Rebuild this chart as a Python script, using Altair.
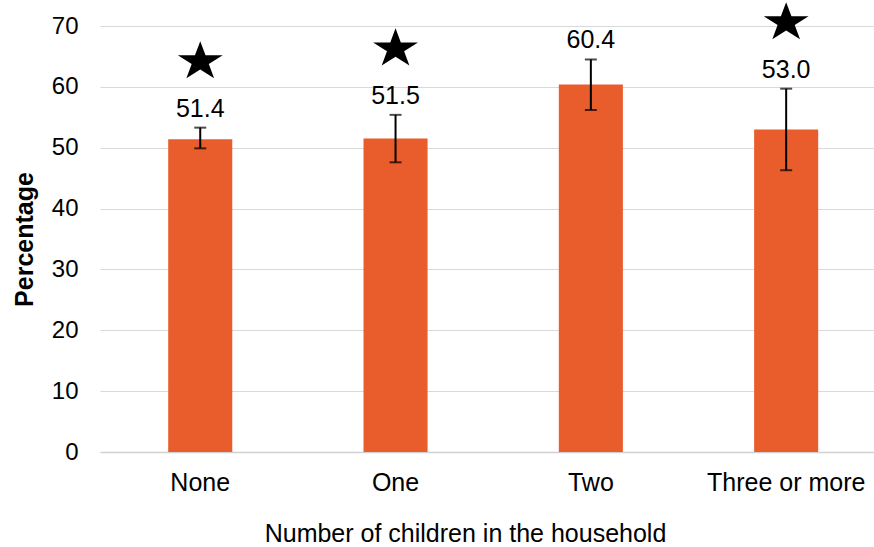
import math
import altair as alt
import pandas as pd

# Share (%) by number of children in the household, with 95% interval bounds
categories = ["None", "One", "Two", "Three or more"]
percentages = [51.4, 51.5, 60.4, 53.0]
ci_low = [49.9, 47.6, 56.2, 46.3]
ci_high = [53.3, 55.4, 64.5, 59.7]
significant = [True, True, False, True]

df = pd.DataFrame({
    "category": categories,
    "pct": percentages,
    "low": ci_low,
    "high": ci_high,
    "sig": significant,
})

# Five-pointed star outline for the significance marker
star_pts = []
for k in range(10):
    ang = -math.pi / 2 + k * math.pi / 5
    r = 1.0 if k % 2 == 0 else 0.382
    star_pts.append((1.15 * r * math.cos(ang), r * math.sin(ang)))
star_path = "M" + " L".join(f"{x:.3f},{y:.3f}" for x, y in star_pts) + " Z"

FONT = "Liberation Sans, Arial, sans-serif"
BAR = "#E95C2B"

x_enc = alt.X(
    "category:N",
    sort=categories,
    scale=alt.Scale(paddingInner=0.672, paddingOuter=0.3175, align=0.55),
    axis=alt.Axis(
        title="Number of children in the household",
        labelAngle=0,
        labelFontSize=25,
        labelColor="black",
        labelPadding=18,
        ticks=False,
        domain=True,
        domainColor="#D0D0D0",
        domainWidth=1.5,
        titleFontSize=25,
        titleFontWeight="normal",
        titleColor="black",
        titlePadding=26,
        titleX=365,
        grid=False,
    ),
)

y_scale = alt.Scale(domain=[0, 70])

base = alt.Chart(df).encode(x=x_enc)

bars = base.mark_bar(color=BAR).encode(
    y=alt.Y(
        "pct:Q",
        scale=y_scale,
        axis=alt.Axis(
            title="Percentage",
            values=list(range(0, 80, 10)),
            labelFontSize=24,
            labelColor="black",
            labelPadding=22,
            ticks=False,
            domain=False,
            grid=True,
            gridColor="#D9D9D9",
            gridWidth=1,
            titleFontSize=25,
            titleFontWeight="bold",
            titleColor="black",
            titlePadding=14,
        ),
    )
)

whiskers = base.mark_rule(color="black", strokeWidth=2).encode(
    y=alt.Y("low:Q", scale=y_scale), y2="high:Q"
)
cap_low = base.mark_tick(color="black", thickness=2, size=12).encode(
    y=alt.Y("low:Q", scale=y_scale)
)
cap_high = base.mark_tick(color="black", thickness=2, size=12).encode(
    y=alt.Y("high:Q", scale=y_scale)
)

value_labels = base.mark_text(
    dy=-11, baseline="alphabetic", fontSize=25, font=FONT, color="black"
).encode(
    y=alt.Y("high:Q", scale=y_scale),
    text=alt.Text("pct:Q", format=".1f"),
)

stars = base.transform_filter("datum.sig").mark_point(
    shape=star_path, filled=True, size=1681, color="black", opacity=1, yOffset=-66
).encode(y=alt.Y("high:Q", scale=y_scale))

chart = (
    alt.layer(bars, whiskers, cap_low, cap_high, value_labels, stars)
    .properties(
        width=774,
        height=426,
        autosize=alt.AutoSizeParams(type="none"),
        padding={"left": 100, "top": 26, "right": 0, "bottom": 95},
        background="white",
    )
    .configure_view(stroke=None)
    .configure_axis(labelFont=FONT, titleFont=FONT)
)

chart.save("out.html", embed_options={"renderer": "svg", "actions": False})
